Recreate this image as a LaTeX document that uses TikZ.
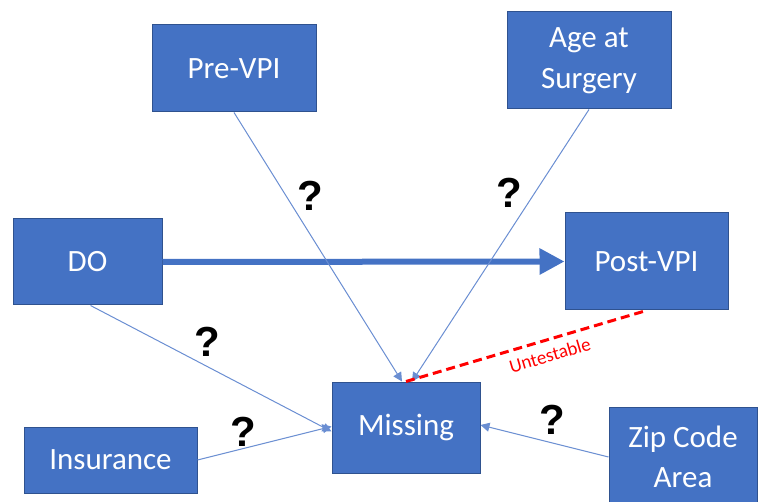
\documentclass[tikz,border=0pt]{standalone}
\usepackage{fontspec}
\setmainfont{Carlito}
\newfontfamily\qfont{Liberation Sans}
\usetikzlibrary{arrows.meta}
\definecolor{boxblue}{HTML}{4472C4}
\definecolor{boxedge}{HTML}{2F528F}
\definecolor{linkblue}{HTML}{6A8ED2}
\definecolor{untest}{HTML}{FF0000}

\begin{document}
\begin{tikzpicture}[x=1pt,y=-1pt,
  var/.style={draw=boxedge,line width=1pt,fill=boxblue,text=white,inner sep=0pt,
    font=\fontsize{31}{40}\selectfont,align=center},
  link/.style={draw=linkblue,line width=1pt,-{Triangle[length=9pt,width=9pt]}},
  qmark/.style={font=\qfont\bfseries\fontsize{42}{42}\selectfont}]
\useasboundingbox (0,0) rectangle (760,502);
% Variables of the missingness diagram
\node[var,minimum width=164pt,minimum height=87pt] (pre) at (234,68.5) {Pre-VPI};
\node[var,minimum width=164pt,minimum height=97pt] (age) at (589,60.5) {Age at\\[1pt]Surgery};
\node[var,minimum width=149pt,minimum height=86pt] (do) at (87.5,262) {DO};
\node[var,minimum width=163pt,minimum height=97pt] (post) at (646.5,261.5) {Post-VPI};
\node[var,minimum width=148pt,minimum height=91pt] (miss) at (406,427.5) {Missing};
\node[var,minimum width=173pt,minimum height=66pt] (ins) at (110.5,460) {Insurance};
\node[var,minimum width=148pt,minimum height=100pt] (zip) at (683,457) {Zip Code\\Area};

\draw[draw=boxblue,line width=6pt,-{Triangle[length=25pt,width=25pt]}] (do.east) -- (post.west);

\draw[link] (pre.south) -- ([xshift=-4pt]miss.north);
\draw[link] (age.south) -- ([xshift=6pt]miss.north);
\draw[link] ([xshift=3pt]do.south) -- ([yshift=-4pt]miss.west);
\draw[link] (ins.east) -- ([yshift=1pt]miss.west);
\draw[link] (zip.west) -- ([yshift=2.5pt]miss.east);

\draw[untest,line width=3pt,dash pattern=on 9pt off 5pt] (miss.north) --
  node[pos=0.58,sloped,below=4pt,text=untest,font=\fontsize{19}{19}\selectfont] (untxt) {Untestable} (post.south);

\node[qmark] (q1) at (310,196) {?};
\node[qmark] (q2) at (509,193) {?};
\node[qmark] (q3) at (207,342) {?};
\node[qmark] (q4) at (243,432) {?};
\node[qmark] (q5) at (552,420) {?};
\end{tikzpicture}
\end{document}
